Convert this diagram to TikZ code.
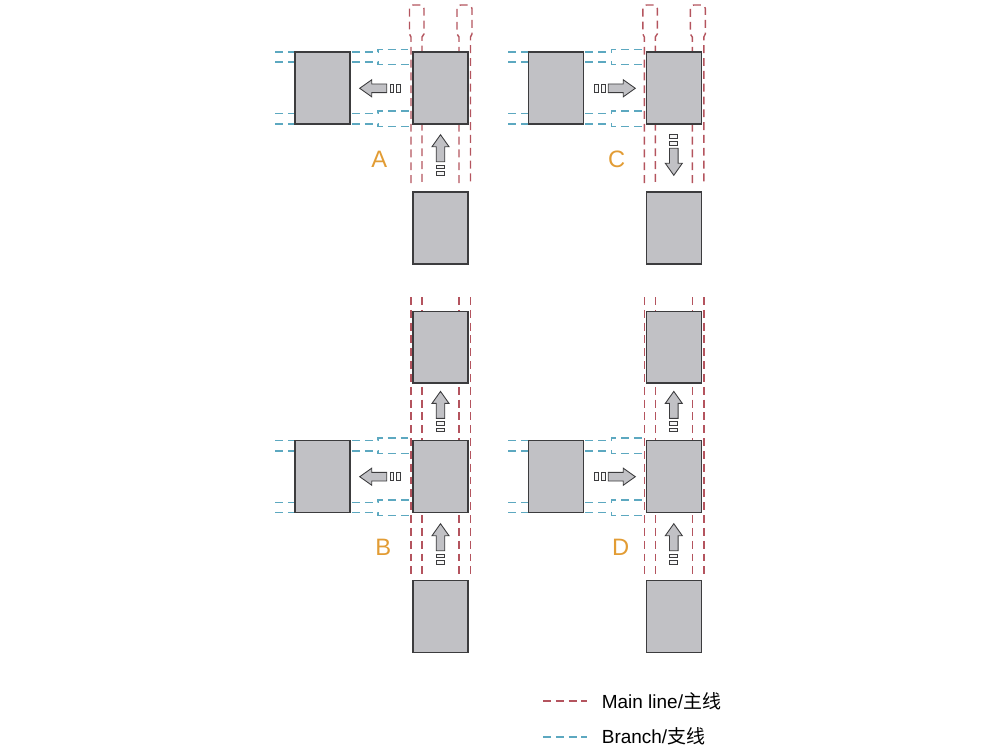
\documentclass[tikz,border=0pt]{standalone}
\usepackage{fontspec}
\setsansfont{Liberation Sans}
\newfontfamily\cjk{Noto Sans CJK SC}
\usepackage{tikz}
\usetikzlibrary{positioning}
\definecolor{mainred}{RGB}{180,84,94}
\definecolor{branchblue}{RGB}{92,168,192}
\definecolor{bayfill}{RGB}{193,193,197}
\definecolor{bayedge}{RGB}{60,60,62}
\definecolor{tagorange}{RGB}{226,156,52}
\tikzset{
  pics/flowarrow/.style={code={
    \draw[bayedge, fill=bayfill, line width=0.5pt, line join=miter]
      (0,-4.3) -- (15,-4.3) -- (15,-8.5) -- (27,0) -- (15,8.5) -- (15,4.3) -- (0,4.3) -- cycle;
    \draw[bayedge, fill=white!85!bayfill, line width=0.5pt] (-3.3,-4) rectangle (-6.8,4);
    \draw[bayedge, fill=white!85!bayfill, line width=0.5pt] (-10,-4) rectangle (-13.5,4);
  }},
}

\begin{document}
\begin{tikzpicture}[x=0.02cm, y=-0.02cm,
  mainline/.style={mainred, line width=0.8pt, dash pattern=on 4.5pt off 2.8pt},
  branchline/.style={branchblue, line width=0.7pt, dash pattern=on 4.5pt off 2.8pt},
  bay/.style={draw=bayedge, fill=bayfill, line width=0.8pt, inner sep=0pt,
              minimum width=1.1cm, minimum height=1.44cm},
  tag/.style={text=tagorange, font=\sffamily\fontsize{13.5}{16}\selectfont},
  legend/.style={anchor=west, inner sep=0pt, font=\sffamily\fontsize{10.8}{13}\selectfont}]

\useasboundingbox (0,0) rectangle (1000,750);

% Case A: main line with buffer ends, branch to the left
\draw[mainline] (411,183) -- (411,37) -- (409.5,34) {[rounded corners=2pt] -- (409.5,5) -- (424,5)} -- (424,34) -- (422,37) -- (422,183);
\draw[mainline] (459,183) -- (459,37) -- (457,34) {[rounded corners=2pt] -- (457,5) -- (472,5)} -- (472,34) -- (470.5,37) -- (470.5,183);
\draw[branchline] (275,52) -- (378,52) -- (378,49.3) -- (411,49.3);
\draw[branchline] (275,62) -- (378,62) -- (378,64.5) -- (411,64.5);
\draw[branchline] (275,113.5) -- (378,113.5) -- (378,111) -- (411,111);
\draw[branchline] (275,124) -- (378,124) -- (378,126.5) -- (411,126.5);
\node[bay] (A-side) at (322.5,88) {};
\node[bay] (A-main) at (440.5,88) {};
\node[bay] (A-feed) at (440.5,228) {};
\pic[rotate=180] at (386.7,88.3) {flowarrow};
\pic[rotate=90] at (440.5,161.7) {flowarrow};
\node[tag] (A-tag) at (379.3,159.3) {A};

% Case C: branch into main line, then down
\begin{scope}[shift={(233.3,0)}]
\draw[mainline] (411,183) -- (411,37) -- (409.5,34) {[rounded corners=2pt] -- (409.5,5) -- (424,5)} -- (424,34) -- (422,37) -- (422,183);
\draw[mainline] (459,183) -- (459,37) -- (457,34) {[rounded corners=2pt] -- (457,5) -- (472,5)} -- (472,34) -- (470.5,37) -- (470.5,183);
\draw[branchline] (275,52) -- (378,52) -- (378,49.3) -- (411,49.3);
\draw[branchline] (275,62) -- (378,62) -- (378,64.5) -- (411,64.5);
\draw[branchline] (275,113.5) -- (378,113.5) -- (378,111) -- (411,111);
\draw[branchline] (275,124) -- (378,124) -- (378,126.5) -- (411,126.5);
\node[bay] (C-side) at (322.5,88) {};
\node[bay] (C-main) at (440.5,88) {};
\node[bay] (C-feed) at (440.5,228) {};
\pic at (375,88.3) {flowarrow};
\pic[rotate=-90] at (440.5,148.3) {flowarrow};
\node[tag] (C-tag) at (383.4,159.3) {C};
\end{scope}

% Case B: through main line, branch to the left
\draw[mainline] (411,297) -- (411,576);
\draw[mainline] (422,297) -- (422,576);
\draw[mainline] (459,297) -- (459,576);
\draw[mainline] (470.5,297) -- (470.5,576);
\draw[branchline] (275,440.7) -- (378,440.7) -- (378,438) -- (411,438);
\draw[branchline] (275,451) -- (378,451) -- (378,453.5) -- (411,453.5);
\draw[branchline] (275,502.5) -- (378,502.5) -- (378,500) -- (411,500);
\draw[branchline] (275,512.7) -- (378,512.7) -- (378,515.2) -- (411,515.2);
\node[bay] (B-side) at (322.5,476.7) {};
\node[bay] (B-out) at (440.5,347.2) {};
\node[bay] (B-main) at (440.5,476.7) {};
\node[bay] (B-feed) at (440.5,616.7) {};
\pic[rotate=180] at (386.7,476.7) {flowarrow};
\pic[rotate=90] at (440.5,418.4) {flowarrow};
\pic[rotate=90] at (440.5,550.7) {flowarrow};
\node[tag] (B-tag) at (383.3,547.7) {B};

% Case D: branch into main line, through
\begin{scope}[shift={(233.3,0)}]
\draw[mainline] (411,297) -- (411,576);
\draw[mainline] (422,297) -- (422,576);
\draw[mainline] (459,297) -- (459,576);
\draw[mainline] (470.5,297) -- (470.5,576);
\draw[branchline] (275,440.7) -- (378,440.7) -- (378,438) -- (411,438);
\draw[branchline] (275,451) -- (378,451) -- (378,453.5) -- (411,453.5);
\draw[branchline] (275,502.5) -- (378,502.5) -- (378,500) -- (411,500);
\draw[branchline] (275,512.7) -- (378,512.7) -- (378,515.2) -- (411,515.2);
\node[bay] (D-side) at (322.5,476.7) {};
\node[bay] (D-out) at (440.5,347.2) {};
\node[bay] (D-main) at (440.5,476.7) {};
\node[bay] (D-feed) at (440.5,616.7) {};
\pic at (375,476.7) {flowarrow};
\pic[rotate=90] at (440.5,418.4) {flowarrow};
\pic[rotate=90] at (440.5,550.7) {flowarrow};
\node[tag] (D-tag) at (387.4,547.7) {D};
\end{scope}

% Legend
\coordinate (main-s) at (543,701);
\coordinate (main-e) at (587,701);
\coordinate (branch-s) at (543,737);
\coordinate (branch-e) at (587,737);
\draw[mainline] (main-s) -- (main-e);
\draw[branchline] (branch-s) -- (branch-e);
\node[legend] (main-txt) at (601.5,701) {Main line/{\cjk 主线}};
\node[legend] (branch-txt) at (601.5,736) {Branch/{\cjk 支线}};

\end{tikzpicture}
\end{document}
